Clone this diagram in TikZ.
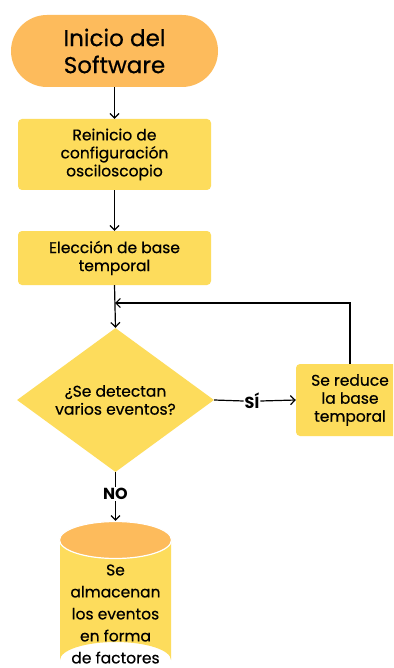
\documentclass[tikz,border=0pt]{standalone}
\usepackage{fontspec}
\setmainfont{Poppins}[UprightFeatures={FakeBold=0.5}]
\usetikzlibrary{shapes.geometric,arrows.meta}
\definecolor{termorange}{RGB}{253,187,92}
\definecolor{boxyellow}{RGB}{253,220,92}
\tikzset{
  term/.style={fill=termorange, rounded corners=36pt, minimum width=207pt, minimum height=72pt, align=center, font=\fontsize{23}{27}\selectfont, inner sep=0pt},
  proc/.style={fill=boxyellow, rounded corners=4pt, align=center, font=\fontsize{15.5}{18}\selectfont, inner sep=0pt},
  decision/.style={diamond, fill=boxyellow, aspect=1.37, minimum width=197pt, minimum height=144pt, align=center, font=\fontsize{15.5}{18}\selectfont, inner sep=0pt},
  lbl/.style={font=\bfseries\fontsize{16}{16}\selectfont, inner sep=1pt},
  arr/.style={line width=1.2pt, -{Straight Barb[length=4.5pt,width=9pt,line width=1.2pt]}},
  ln/.style={line width=1.2pt},
  storetext/.style={align=center, font=\fontsize{15.5}{22}\selectfont, inner sep=0pt}
}
\begin{document}
\begin{tikzpicture}[x=1pt,y=-1pt]
\useasboundingbox (0,0) rectangle (393,668);
\clip (0,0) rectangle (393,668);
\fill[white] (0,0) rectangle (393,668);
\node[term] (start) at (114.5,51) {Inicio del\\Software};
\node[proc, minimum width=193pt, minimum height=71pt] (reinicio) at (114.5,154.5) {Reinicio de\\configuración\\osciloscopio};
\node[proc, minimum width=193pt, minimum height=54pt] (eleccion) at (114.5,258) {Elección de base\\temporal};
\node[decision] (dec) at (115.5,400) {¿Se detectan\\varios eventos?};
\node[proc, minimum width=108pt, minimum height=72pt] (reduce) at (350,400) {Se reduce\\la base\\temporal};
\node[lbl] (si) at (252,401) {SÍ};
\node[lbl] (no) at (115.5,494) {NO};
% cylinder
\fill[boxyellow] (60,540) -- (60,660) arc[start angle=180,end angle=360,x radius=55.5,y radius=18] -- (171,540) -- cycle;
\node[ellipse, fill=termorange, draw=white, line width=1.2pt, minimum width=112pt, minimum height=37pt, inner sep=0pt] (storetop) at (115.5,540) {};
\node[storetext] (store) at (115.5,614) {Se\\almacenan\\los eventos\\en forma\\de factores};
% connectors
\draw[arr] (start.south) -- (reinicio.north);
\draw[arr] (reinicio.south) -- (eleccion.north);
\draw[arr] (eleccion.south) -- (dec.north);
\coordinate (join) at (115,303);
\draw[arr] (reduce.north) |- (join);
\draw[ln] (dec.east) -- (si.west);
\draw[arr] (si.east) -- (reduce.west);
\draw[ln] (dec.south) -- (no.north);
\draw[arr] (no.south) -- (storetop.north);
\end{tikzpicture}
\end{document}
